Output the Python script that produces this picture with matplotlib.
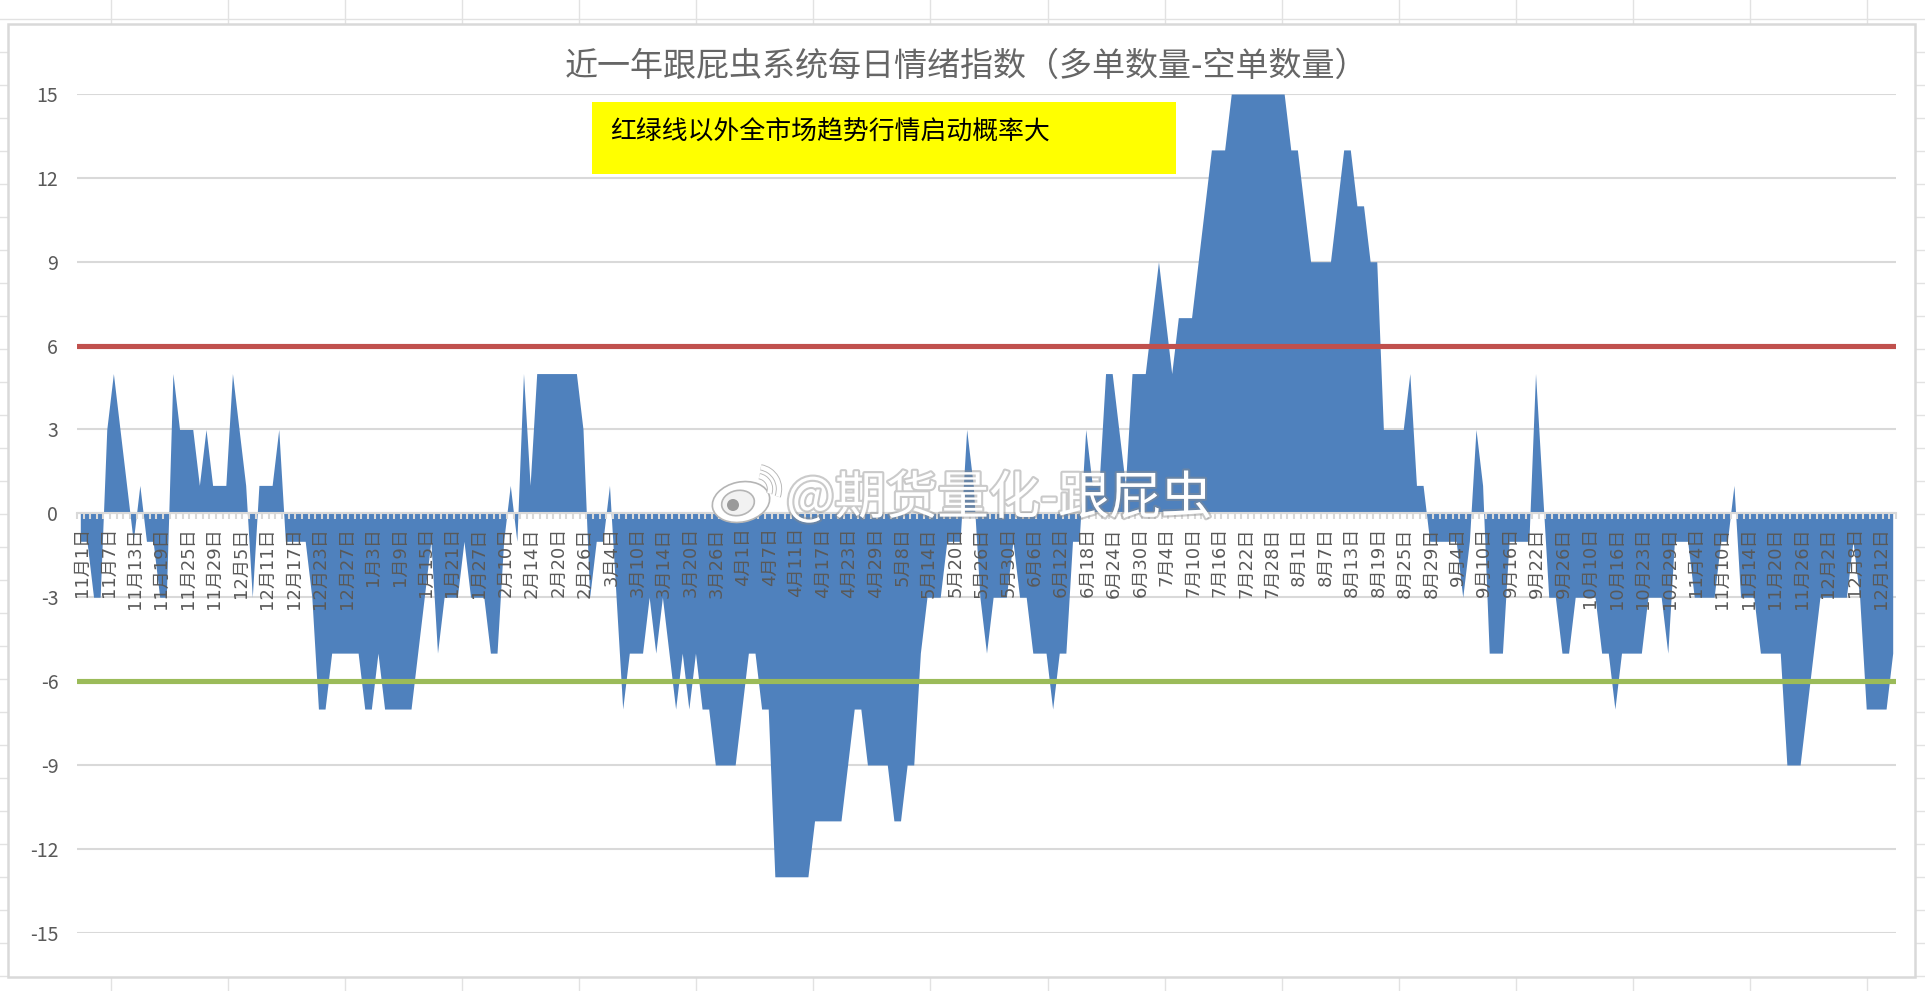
import matplotlib
matplotlib.use("Agg")
import matplotlib.pyplot as plt
import matplotlib.patheffects as pe
from matplotlib.patches import Rectangle, Ellipse, Arc, Circle
from matplotlib.lines import Line2D
import numpy as np

CJK = ['Noto Sans CJK SC', 'DejaVu Sans']
plt.rcParams['font.family'] = CJK

TITLE = '近一年跟屁虫系统每日情绪指数（多单数量-空单数量）'
NOTE = '红绿线以外全市场趋势行情启动概率大'
WATERMARK = '@期货量化-跟屁虫'

# Daily long-minus-short count, one value per trading day
sentiment = [
    -1, -1, -3, -3, 3, 5, 3, 1, -1, 1,
    -1, -1, -3, -3, 5, 3, 3, 3, 1, 3,
    1, 1, 1, 5, 3, 1, -3, 1, 1, 1,
    3, -1, -1, -1, -1, -3, -7, -7, -5, -5,
    -5, -5, -5, -7, -7, -5, -7, -7, -7, -7,
    -7, -5, -3, -1, -5, -3, -3, -3, -1, -3,
    -3, -3, -5, -5, -1, 1, -1, 5, 1, 5,
    5, 5, 5, 5, 5, 5, 3, -3, -1, -1,
    1, -3, -7, -5, -5, -5, -3, -5, -3, -5,
    -7, -5, -7, -5, -7, -7, -9, -9, -9, -9,
    -7, -5, -5, -7, -7, -13, -13, -13, -13, -13,
    -13, -11, -11, -11, -11, -11, -9, -7, -7, -9,
    -9, -9, -9, -11, -11, -9, -9, -5, -3, -3,
    -3, -1, -1, -1, 3, 1, -3, -5, -3, -3,
    -3, -1, -3, -3, -5, -5, -5, -7, -5, -5,
    -1, -1, 3, 1, 1, 5, 5, 3, 1, 5,
    5, 5, 7, 9, 7, 5, 7, 7, 7, 9,
    11, 13, 13, 13, 15, 15, 15, 15, 15, 15,
    15, 15, 15, 13, 13, 11, 9, 9, 9, 9,
    11, 13, 13, 11, 11, 9, 9, 3, 3, 3,
    3, 5, 1, 1, -1, -1, -1, -1, -1, -3,
    -1, 3, 1, -5, -5, -5, -1, -1, -1, -1,
    5, 1, -3, -3, -5, -5, -3, -3, -3, -3,
    -5, -5, -7, -5, -5, -5, -5, -3, -3, -3,
    -5, -1, -1, -1, -3, -3, -3, -3, -1, -1,
    1, -3, -3, -3, -5, -5, -5, -5, -9, -9,
    -9, -7, -5, -3, -3, -3, -3, -3, -1, -3,
    -7, -7, -7, -7, -5,
]

# Every fourth trading day carries a date label
date_labels = [
    '11月1日', '11月7日', '11月13日', '11月19日', '11月25日', '11月29日',
    '12月5日', '12月11日', '12月17日', '12月23日', '12月27日',
    '1月3日', '1月9日', '1月15日', '1月21日', '1月27日',
    '2月10日', '2月14日', '2月20日', '2月26日',
    '3月4日', '3月10日', '3月14日', '3月20日', '3月26日',
    '4月1日', '4月7日', '4月11日', '4月17日', '4月23日', '4月29日',
    '5月8日', '5月14日', '5月20日', '5月26日', '5月30日',
    '6月6日', '6月12日', '6月18日', '6月24日', '6月30日',
    '7月4日', '7月10日', '7月16日', '7月22日', '7月28日',
    '8月1日', '8月7日', '8月13日', '8月19日', '8月25日', '8月29日',
    '9月4日', '9月10日', '9月16日', '9月22日', '9月26日',
    '10月10日', '10月16日', '10月23日', '10月29日',
    '11月4日', '11月10日', '11月14日', '11月20日', '11月26日',
    '12月2日', '12月8日', '12月12日',
]

y_ticks = [-15, -12, -9, -6, -3, 0, 3, 6, 9, 12, 15]
upper_threshold = 6
lower_threshold = -6

W, H = 1925, 991
GRID = '#d9d9d9'
TEXT = '#595959'

fig = plt.figure(figsize=(W / 100, H / 100), dpi=100, facecolor='white')


def px_axes(zorder):
    """Full-figure overlay addressed in pixels, origin top-left."""
    a = fig.add_axes([0, 0, 1, 1], zorder=zorder)
    a.set_xlim(0, W)
    a.set_ylim(H, 0)
    a.axis('off')
    a.patch.set_alpha(0)
    return a


# Spreadsheet cells behind the chart object
sheet = px_axes(-2)
for x in np.arange(110.7, W, 117.1):
    sheet.plot([x, x], [0, H], color='#e2e2e2', lw=1.0)
for y in np.arange(19.3, H, 33.0):
    sheet.plot([0, W], [y, y], color='#e2e2e2', lw=1.0)
sheet.add_patch(Rectangle((7.5, 23.5), 1907.5, 953.5, facecolor='white',
                          edgecolor=GRID, lw=1.8, zorder=5))

# Main chart
left, right, top, bottom = 77, 1896, 94, 932.7
ax = fig.add_axes([left / W, 1 - bottom / H, (right - left) / W, (bottom - top) / H])
ax.patch.set_alpha(0)
x = np.arange(len(sentiment))
ax.set_xlim(-0.5, len(sentiment) - 0.5)
ax.set_ylim(-15, 15)

ax.hlines(y_ticks, -0.5, len(sentiment) - 0.5, color=GRID, lw=1.5, zorder=1)
ax.fill_between(x, sentiment, 0, color='#4f81bd', lw=0, zorder=2)
ax.axhline(upper_threshold, color='#c0504d', lw=3.7, zorder=3, solid_capstyle='round')
ax.axhline(lower_threshold, color='#9bbb59', lw=3.7, zorder=3, solid_capstyle='round')

for name in ('top', 'left', 'right'):
    ax.spines[name].set_visible(False)
ax.spines['bottom'].set_position(('data', 0))
ax.spines['bottom'].set_color(GRID)
ax.spines['bottom'].set_linewidth(1.5)
ax.set_axisbelow(False)

ax.set_yticks(y_ticks)
ax.set_yticklabels([str(v) for v in y_ticks], fontsize=14, color=TEXT)
ax.tick_params(axis='y', length=0, pad=13.5)

ax.set_xticks(x[::4] + 0.25)
ax.set_xticklabels(date_labels, rotation=90, ha='center', va='top', fontsize=13,
                   color=TEXT, family=['DejaVu Sans', 'Noto Sans CJK SC'])
ax.tick_params(axis='x', which='major', length=0, pad=10)
ax.set_xticks(np.arange(-0.5, len(sentiment)), minor=True)
ax.tick_params(axis='x', which='minor', length=4.3, width=1.5, color=GRID)

fig.suptitle(TITLE, x=966 / W, y=1 - 66 / H, va='center', ha='center',
             fontsize=23.8, color='#666666', fontweight='normal')

# Annotation box and account watermark sit over the plot
over = px_axes(5)
over.add_patch(Rectangle((592, 102), 584, 71.7, facecolor='#ffff00', edgecolor='none'))
over.text(610, 131, NOTE, fontsize=18.6, color='black', va='center', ha='left',
          fontweight='medium')

shadow = [pe.withStroke(linewidth=3, foreground='#8a8a8a', alpha=0.45)]
over.text(786, 499, WATERMARK, fontsize=37, color='white', va='center', ha='left',
          path_effects=shadow)
logo_edge = dict(edgecolor='#b5b5b5', lw=1.2)
over.add_patch(Ellipse((741, 502), 58, 40, angle=-12, facecolor='white', **logo_edge))
over.add_patch(Ellipse((738, 503), 33, 25, angle=-12, facecolor='#f2f2f2', **logo_edge))
over.add_patch(Circle((733, 505), 6, facecolor='#9a9a9a', edgecolor='none'))
for d in (26, 44):
    over.add_patch(Arc((757, 489), d, d, theta1=-80, theta2=20, edgecolor='white', lw=3.2,
                       path_effects=[pe.withStroke(linewidth=4.5, foreground='#b5b5b5')]))

fig.savefig('out.png', dpi=100, facecolor='white')
